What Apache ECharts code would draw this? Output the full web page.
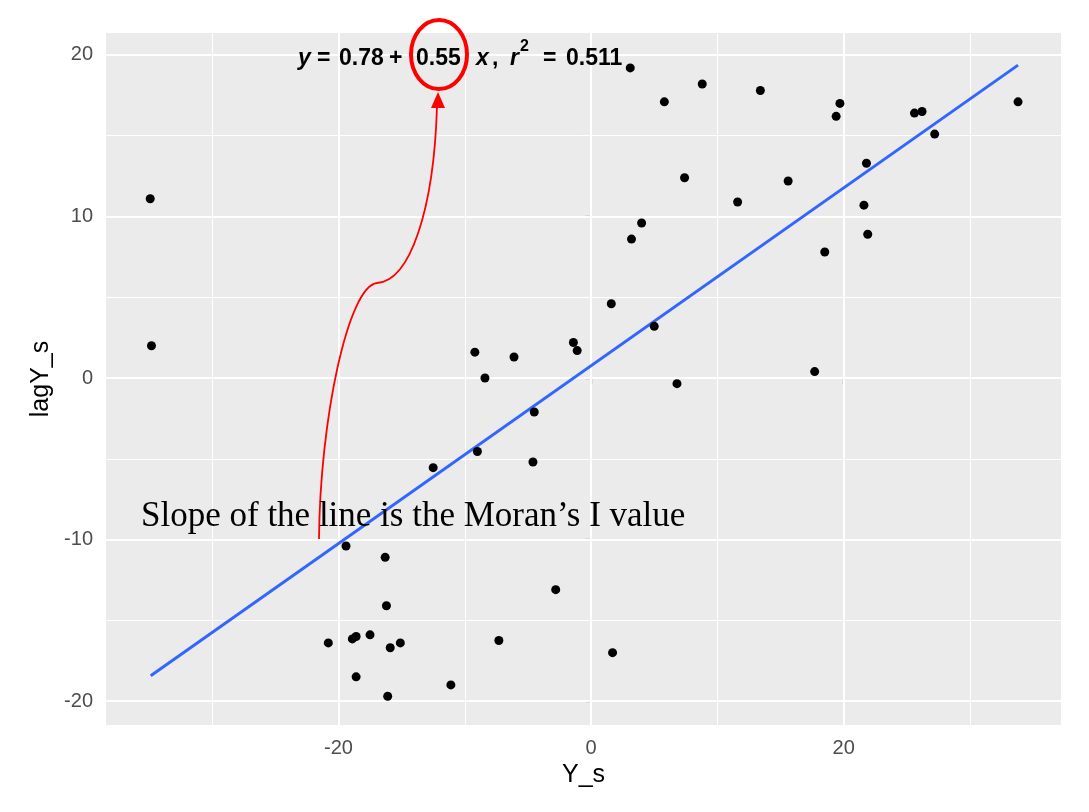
<!DOCTYPE html>
<html>
<head>
<meta charset="utf-8">
<script src="https://cdn.jsdelivr.net/npm/echarts@6/dist/echarts.min.js"></script>
<style>
html,body{margin:0;padding:0;background:#fff;}
#chart{width:1089px;height:812px;}
</style>
</head>
<body>
<div id="chart"></div>
<script>
// Data
const ysValues = [-34.9,-34.8,-9.2,-8.4,-6.1,-1.4,-1.1,1.6,3.2,4.0,3.1,5.8,8.8,13.4,19.7,19.4,25.6,26.2,33.8,27.2,21.8,7.4,15.6,11.6,21.6,21.9,18.5,5.0,17.7,6.8,-4.5,-9.0,-4.6,-12.5,-19.4,-16.3,-2.8,-16.2,-20.8,-18.9,-18.6,-17.5,-15.1,-15.9,-7.3,1.7,-18.6,-11.1,-16.1];
const lagValues = [11.1,2.0,1.6,0.0,1.3,2.2,1.7,4.6,8.6,9.6,19.2,17.1,18.2,17.8,17.0,16.2,16.4,16.5,17.1,15.1,13.3,12.4,12.2,10.9,10.7,8.9,7.8,3.2,0.4,-0.35,-2.1,-4.55,-5.2,-5.55,-10.4,-11.1,-13.1,-14.1,-16.4,-16.15,-16.0,-15.9,-16.4,-16.7,-16.25,-17.0,-18.5,-19.0,-19.7];
const fitX = [-34.86, 33.8];
const fitY = [-18.43, 19.37];
const xTickLabels = [-20, 0, 20];
const yTickLabels = [-20, -10, 0, 10, 20];
const xMinorGrid = [-30, -10, 10, 30];
const yMinorGrid = [-15, -5, 5, 15];
const xTitle = 'Y_s';
const yTitle = 'lagY_s';

const points = ysValues.map((x, i) => [x, lagValues[i]]);
const fitLine = fitX.map((x, i) => [x, fitY[i]]);

const chart = echarts.init(document.getElementById('chart'), null, {renderer: 'canvas'});
const tickColor = '#4D4D4D';
const font = 'Liberation Sans, Arial, sans-serif';

function gridLines(axis, vals, w) {
  return vals.map(v => ({[axis]: v, lineStyle: {color: '#FFFFFF', width: w, type: 'solid'}}));
}
function eqText(txt, x, y, f) {
  return {type: 'text', x: x, y: y, z: 10, style: {text: txt, font: f, fill: '#000', verticalAlign: 'middle', align: 'left'}};
}
const B = 'bold 23px ' + font, BI = 'italic bold 23px ' + font;
const eqY = 58.5;

const option = {
  backgroundColor: '#FFFFFF',
  animation: false,
  grid: {
    left: 106, right: 28, top: 33, bottom: 87,
    show: true, backgroundColor: '#EBEBEB', borderWidth: 0
  },
  xAxis: {
    type: 'value', min: -38.4, max: 37.2,
    name: xTitle, nameLocation: 'middle', nameGap: 38,
    nameTextStyle: {color: '#000', fontSize: 25, fontFamily: font},
    axisLine: {show: false},
    axisTick: {show: true, length: 6, lineStyle: {color: '#333333', width: 1.2}, customValues: xTickLabels},
    axisLabel: {color: tickColor, fontSize: 20, fontFamily: font, margin: 13, customValues: xTickLabels},
    splitLine: {show: false}
  },
  yAxis: {
    type: 'value', min: -21.48, max: 21.36,
    name: yTitle, nameLocation: 'middle', nameGap: 44, nameRotate: 90,
    nameTextStyle: {color: '#000', fontSize: 25, fontFamily: font},
    axisLine: {show: false},
    axisTick: {show: true, length: 6, lineStyle: {color: '#333333', width: 1.2}, customValues: yTickLabels},
    axisLabel: {color: tickColor, fontSize: 20, fontFamily: font, margin: 13, customValues: yTickLabels},
    splitLine: {show: false}
  },
  series: [
    {
      type: 'scatter', data: [], z: 1, silent: true,
      markLine: {
        z: 1, zlevel: 0,
        silent: true, symbol: ['none', 'none'], animation: false,
        label: {show: false},
        emphasis: {disabled: true},
        data: [
          ...gridLines('xAxis', xMinorGrid, 1),
          ...gridLines('yAxis', yMinorGrid, 1),
          ...gridLines('xAxis', xTickLabels, 2),
          ...gridLines('yAxis', yTickLabels, 2)
        ]
      }
    },
    {
      type: 'line', data: fitLine, z: 8, showSymbol: false, symbol: 'none',
      lineStyle: {color: '#3366FF', width: 3}, silent: true
    },
    {
      type: 'scatter', data: points, z: 9, symbol: 'circle', symbolSize: 9,
      itemStyle: {color: '#000000', opacity: 1}, silent: true
    }
  ],
  graphic: [
    eqText('y', 298, eqY, BI),
    eqText('=', 317, eqY, B),
    eqText('0.78', 339, eqY, B),
    eqText('+', 389, eqY, B),
    eqText('0.55', 416, eqY, B),
    eqText('x', 476, eqY, BI),
    eqText(',', 492, eqY, B),
    eqText('r', 510, eqY, BI),
    eqText('2', 520, 47, 'bold 16px ' + font),
    eqText('=', 543, eqY, B),
    eqText('0.511', 566, eqY, B),
    // Red ellipse
    {type: 'ellipse', z: 11, shape: {cx: 439, cy: 54.5, rx: 28, ry: 34.5},
     style: {fill: 'none', stroke: '#FF0000', lineWidth: 4}},
    // Red arrow
    {type: 'bezierCurve', z: 11, shape: {x1: 319, y1: 539, cpx1: 320, cpy1: 420, cpx2: 348, cpy2: 286, x2: 377, y2: 283},
     style: {fill: 'none', stroke: '#FF0000', lineWidth: 1.8}},
    {type: 'bezierCurve', z: 11, shape: {x1: 377, y1: 283, cpx1: 410, cpy1: 281, cpx2: 434, cpy2: 210, x2: 437, y2: 106},
     style: {fill: 'none', stroke: '#FF0000', lineWidth: 1.8}},
    {type: 'polygon', z: 11, shape: {points: [[438, 92], [431, 108], [445, 108]]},
     style: {fill: '#FF0000'}},
    // Caption
    {type: 'text', x: 141, y: 517, z: 12,
     style: {text: 'Slope of the line is the Moran\u2019s I value', font: '35px "Liberation Serif", "Times New Roman", serif', fill: '#000', verticalAlign: 'middle', align: 'left'}}
  ]
};
chart.setOption(option);
</script>
</body>
</html>
